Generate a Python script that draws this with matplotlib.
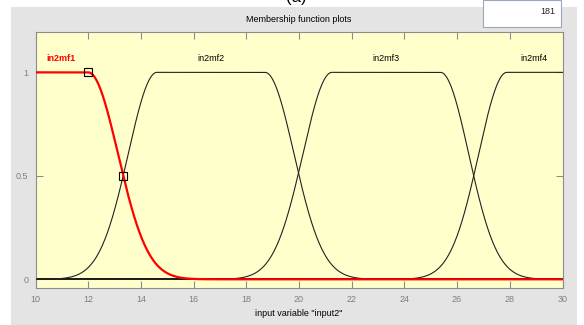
import numpy as np
import matplotlib
matplotlib.use("Agg")
import matplotlib.pyplot as plt
from matplotlib.patches import Rectangle

# ---- data ----
mf_names = ["in2mf1", "in2mf2", "in2mf3", "in2mf4"]
mf_sigma_left = [1.10, 1.09, 1.10, 1.07]
mf_center_left = [8.0, 14.61, 21.25, 27.89]
mf_sigma_right = [1.13, 1.10, 1.07, 1.10]
mf_center_right = [12.0, 18.71, 25.37, 32.0]
label_x = [10.97, 16.64, 23.30, 28.93]
label_y = 1.069
selected_mf = 0
marker_x = [12.0, 13.33]
marker_y = [1.0, 0.5]
x_ticks = [10, 12, 14, 16, 18, 20, 22, 24, 26, 28, 30]
y_ticks = [0, 0.5, 1]
y_tick_labels = ["0", "0.5", "1"]
title_text = "Membership function plots"
xlabel_text = 'input variable "input2"'
box_text = "181"


def gauss2mf(x, s1, c1, s2, c2):
    y = np.ones_like(x)
    left = x < c1
    right = x > c2
    y[left] = np.exp(-((x[left] - c1) ** 2) / (2 * s1 ** 2))
    y[right] = np.exp(-((x[right] - c2) ** 2) / (2 * s2 ** 2))
    return y


W, H = 584, 325
fig = plt.figure(figsize=(W / 100, H / 100), dpi=100)
fig.patch.set_facecolor("white")

# gray panel background
fig.patches.append(Rectangle((11 / W, 0), (577 - 11) / W, (H - 7) / H,
                             transform=fig.transFigure, facecolor="#e4e4e4",
                             edgecolor="none", zorder=-5))
# white box with number
fig.patches.append(Rectangle((483 / W, (H - 27) / H), (561 - 483) / W, 27 / H,
                             transform=fig.transFigure, facecolor="white",
                             edgecolor="#9aa7b8", linewidth=0.8, zorder=-4))
fig.text(555 / W, 1 - 11 / H, box_text, ha="right", va="center", fontsize=6.5,
         family="Liberation Sans", color="#222222")
fig.text(296 / W, 1 - 2 / H, "(a)", ha="center", va="baseline", fontsize=12,
         family="Liberation Sans", color="black")

ax = fig.add_axes([35.5 / W, (H - 288) / H, 527 / W, 256 / H])
ax.set_facecolor("#ffffcc")
ax.set_xlim(10, 30)
ax.set_ylim(-0.042, 1.195)

x = np.linspace(10, 30, 2001)
ax.axhline(0, color="black", lw=1.3, zorder=2)
for i, name in enumerate(mf_names):
    y = gauss2mf(x, mf_sigma_left[i], mf_center_left[i], mf_sigma_right[i], mf_center_right[i])
    if i != selected_mf:
        ax.plot(x, y, color="#222222", lw=0.8, zorder=3)
    ax.text(label_x[i], label_y, name, ha="center", va="center", fontsize=6.5,
            family="Liberation Sans",
            color="red" if i == selected_mf else "black",
            fontweight="bold" if i == selected_mf else "normal")

i = selected_mf
y_sel = gauss2mf(x, mf_sigma_left[i], mf_center_left[i], mf_sigma_right[i], mf_center_right[i])
ax.plot(x, y_sel, color="red", lw=1.6, zorder=4)
ax.plot(marker_x, marker_y, linestyle="none", marker="s", markersize=6,
        markerfacecolor="none", markeredgecolor="black", markeredgewidth=0.8, zorder=5)

ax.set_xticks(x_ticks)
ax.set_xticklabels([str(t) for t in x_ticks])
ax.set_yticks(y_ticks)
ax.set_yticklabels(y_tick_labels)
ax.tick_params(direction="in", length=5, width=0.8, color="#8c8c8c",
               labelcolor="#7f7f7f", labelsize=6.5, top=True, right=True, pad=5)
for lbl in ax.get_xticklabels() + ax.get_yticklabels():
    lbl.set_family("Liberation Sans")
for sp in ax.spines.values():
    sp.set_color("#8c8c8c")
    sp.set_linewidth(0.8)

ax.set_title(title_text, fontsize=6.5, family="Liberation Sans", pad=7)
ax.set_xlabel(xlabel_text, fontsize=6.5, family="Liberation Sans", labelpad=4)

fig.savefig("out.png", dpi=100)
